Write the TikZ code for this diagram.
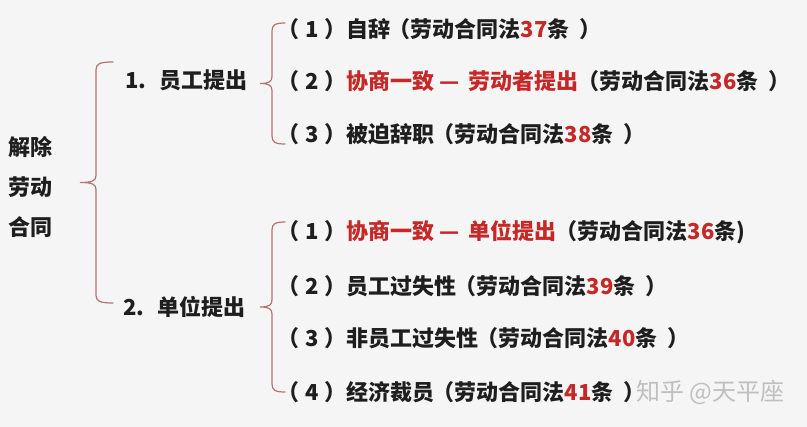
\documentclass[tikz,border=0pt]{standalone}
\usepackage{fontspec}
\setmainfont{Noto Sans CJK SC}
\usetikzlibrary{positioning}
\definecolor{lawred}{HTML}{C62828}
\definecolor{bracered}{HTML}{B87270}
\definecolor{textdark}{HTML}{1E1E1E}
\newcommand{\hl}[1]{\textcolor{lawred}{#1}}
\newcommand{\idx}[1]{（\kern0.31em#1\kern0.21em）}
\newcommand{\lp}{\kern-0.05em（}
\newcommand{\rp}{\kern0.45em）}
\newcommand{\dsep}{\kern0.25em—\kern0.42em}
% left curly brace: end x, stem x, tip x, top y, bottom y
\newcommand{\leftcurl}[5]{%
	\pgfmathsetmacro\cmid{(#4+#5)/2}%
	\draw[curly] (#1,#4) .. controls (#2+3,#4) and (#2,#4+2) .. (#2,#4+8)
		-- (#2,\cmid-7) .. controls (#2,\cmid-2) and (#2-3,\cmid) .. (#3,\cmid)
		.. controls (#2-3,\cmid) and (#2,\cmid+2) .. (#2,\cmid+7)
		-- (#2,#5-8) .. controls (#2,#5-2) and (#2+3,#5) .. (#1,#5);}

\begin{document}
\begin{tikzpicture}[x=1pt,y=-1pt,
	item/.style={anchor=west,inner sep=0pt,text=textdark,font=\fontsize{22}{24}\selectfont\bfseries},
	head/.style={anchor=west,inner sep=0pt,text=textdark,font=\fontsize{22}{24}\selectfont\bfseries},
	curly/.style={draw=bracered,line width=1.2pt,line cap=round}]
	% background
	\fill[gray!8] (0,0) rectangle (807,427);
	\useasboundingbox (0,0) rectangle (807,427);
	% left column
	\node[head,align=left,font=\fontsize{22}{40}\selectfont\bfseries] (root) at (8,187) {解除\\劳动\\合同};
	\node[head] (emp) at (125,80) {1.\hspace{0.6em}员工提出};
	\node[head] (unit) at (123,307) {2.\hspace{0.6em}单位提出};
	% items of 1.
	\node[item] (e1) at (277,29) {\idx{1}自辞\lp 劳动合同法\hl{37}条\rp};
	\node[item] (e2) at (277,81) {\idx{2}\hl{协商一致\dsep 劳动者提出}\lp 劳动合同法\hl{36}条\rp};
	\node[item] (e3) at (277,134) {\idx{3}被迫辞职\lp 劳动合同法\hl{38}条\rp};
	% items of 2.
	\node[item] (u1) at (277,232) {\idx{1}\hl{协商一致\dsep 单位提出}\lp 劳动合同法\hl{36}条)};
	\node[item] (u2) at (277,286) {\idx{2}员工过失性\lp 劳动合同法\hl{39}条\rp};
	\node[item] (u3) at (277,338) {\idx{3}非员工过失性\lp 劳动合同法\hl{40}条\rp};
	\node[item] (u4) at (277,392) {\idx{4}经济裁员\lp 劳动合同法\hl{41}条\rp};
	% watermark
	\node[anchor=west,inner sep=0pt,text=gray!50,font=\fontsize{24}{26}\selectfont] (mark) at (636,392) {知乎 @天平座};
	% braces
	\leftcurl{113}{96}{80}{62}{303}
	\leftcurl{285}{272}{260}{23}{144}
	\leftcurl{285}{272}{260}{222}{392}
\end{tikzpicture}
\end{document}
